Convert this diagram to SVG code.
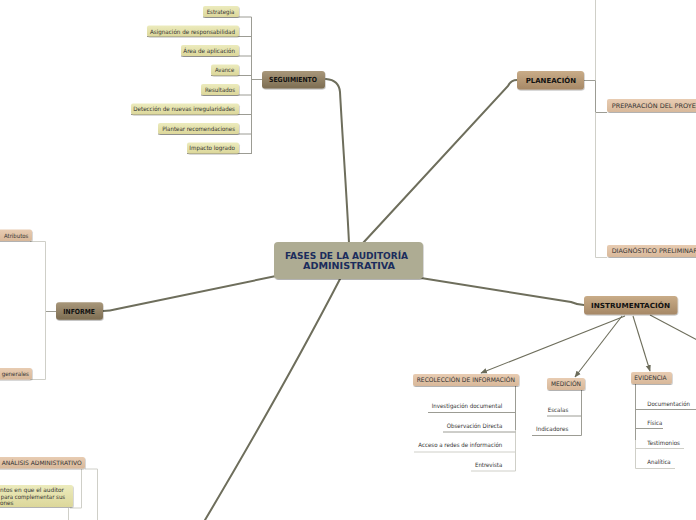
<svg xmlns="http://www.w3.org/2000/svg" width="696" height="520" viewBox="0 0 696 520">
<defs>
<linearGradient id="gDark" x1="0" y1="0" x2="0" y2="1"><stop offset="0" stop-color="#a8977a"/><stop offset="1" stop-color="#7d6d52"/></linearGradient>
<linearGradient id="gLight" x1="0" y1="0" x2="0" y2="1"><stop offset="0" stop-color="#c9ac88"/><stop offset="1" stop-color="#a68866"/></linearGradient>
<linearGradient id="gSub" x1="0" y1="0" x2="0" y2="1"><stop offset="0" stop-color="#e8ccb2"/><stop offset="1" stop-color="#d8b89a"/></linearGradient>
<linearGradient id="gYel" x1="0" y1="0" x2="0" y2="1"><stop offset="0" stop-color="#ecebbd"/><stop offset="1" stop-color="#dcd79a"/></linearGradient>
<filter id="sh" x="-10%" y="-30%" width="120%" height="170%"><feDropShadow dx="0.5" dy="1" stdDeviation="0.7" flood-color="#000" flood-opacity="0.3"/></filter>
<marker id="arr" viewBox="0 0 10 10" refX="9" refY="5" markerWidth="6" markerHeight="6" orient="auto"><path d="M0,1 L10,5 L0,9 Z" fill="#6b6b5a"/></marker>
</defs>
<style>
.main{fill:none;stroke:#6e6e5c;stroke-width:2;stroke-linecap:round}
.arrow{fill:none;stroke:#6e6e5c;stroke-width:1.1}
.ln{fill:none;stroke:#9c9c94;stroke-width:1}
.lt{fill:none;stroke:#cfcfc8;stroke-width:1}
.t{font-family:"DejaVu Sans",Verdana,sans-serif;fill:#333;font-size:6px}
.tb{font-family:"DejaVu Sans",Verdana,sans-serif;fill:#111;font-size:7px;font-weight:bold}
.ts{font-family:"DejaVu Sans",Verdana,sans-serif;fill:#333;font-size:6.3px}
.tc{font-family:"DejaVu Sans",Verdana,sans-serif;fill:#1b2c5c;font-size:8.2px;font-weight:bold}
.yel{fill:url(#gYel);filter:url(#sh)}
.sub{fill:url(#gSub);filter:url(#sh)}
.dk{fill:url(#gDark);filter:url(#sh)}
.lg{fill:url(#gLight);filter:url(#sh)}
</style>
<rect width="696" height="520" fill="#ffffff"/>

<g id="connectors">
<path class="main" d="M349,243 C347,200 342,130 340,92 Q339,80 326,79"/>
<path class="main" d="M363,243 L508,86 Q511,80 517,80"/>
<path class="main" d="M421,278 L571,302 Q578,305 584,305"/>
<path class="main" d="M276,276 L117,309 Q110,311 103,311"/>
<path class="main" d="M340,279 Q285,385 205,520"/>
<path class="arrow" marker-end="url(#arr)" d="M625,316 L481,373"/>
<path class="arrow" marker-end="url(#arr)" d="M622,316 L575,377"/>
<path class="arrow" marker-end="url(#arr)" d="M633,316 L650,371"/>
<path class="arrow" d="M650,315 L697,340"/>
<!-- seguimiento tree -->
<path class="ln" d="M262,79.5 H251.5 M251.5,17 V154"/>
<path class="ln" d="M203,17 H251.5 M147,36.5 H251.5 M181,56 H251.5 M211,75.5 H251.5 M201,95 H251.5 M131,114.5 H251.5 M158,134 H251.5 M187,153.5 H251.5"/>
<!-- planeacion tree -->
<path class="ln" d="M584,80.5 H595.5 V112.5 H607"/>
<path class="lt" d="M595.5,0 V80 M595.5,112.5 V257.5 H607"/>
<!-- recoleccion -->
<path class="ln" d="M515.5,386 V430"/>
<path class="lt" d="M515.5,430 V471"/>
<path class="ln" d="M428,412.5 H515.5 M443,432 H515.5"/>
<path class="lt" d="M414,452 H515.5 M471,471 H515.5"/>
<!-- medicion -->
<path class="ln" d="M581.5,390 V435.5 M547,416 H581.5 M532,435.5 H581.5"/>
<!-- evidencia -->
<path class="ln" d="M635.5,384 V440"/>
<path class="lt" d="M635.5,440 V468.5"/>
<path class="ln" d="M635.5,409.5 H696 M635.5,428.5 H663"/>
<path class="lt" d="M635.5,448.5 H684 M635.5,468.5 H675"/>
<!-- informe -->
<path class="ln" d="M56,311.5 H45.5"/>
<path class="lt" d="M45.5,241.5 V379.5 M30,241.5 H45.5 M30,379.5 H45.5"/>
<!-- analisis -->
<path class="lt" d="M85,469 H97.5 V520 M81.5,469 V508 H70 M68.5,508 V520"/>
</g>

<g id="center">
<rect x="274" y="242" width="149" height="37" rx="4" fill="#aeac93" filter="url(#sh)"/>
<text class="tc" x="346.5" y="259" text-anchor="middle" textLength="123" lengthAdjust="spacingAndGlyphs">FASES DE LA AUDITORÍA</text>
<text class="tc" x="349" y="268.6" text-anchor="middle" textLength="92" lengthAdjust="spacingAndGlyphs">ADMINISTRATIVA</text>
</g>

<g id="seguimiento">
<rect class="dk" x="262" y="71" width="63" height="17.5" rx="3"/>
<text class="tb" x="269" y="82" textLength="48" lengthAdjust="spacingAndGlyphs">SEGUIMIENTO</text>
</g>
<g id="seg-estrategia"><rect class="yel" x="203" y="6" width="36" height="11" rx="2"/><text class="t" x="206.7" y="14" textLength="27.6" lengthAdjust="spacingAndGlyphs">Estrategia</text></g>
<g id="seg-asignacion"><rect class="yel" x="147" y="25.5" width="92" height="11" rx="2"/><text class="t" x="150" y="33.5" textLength="85" lengthAdjust="spacingAndGlyphs">Asignación de responsabilidad</text></g>
<g id="seg-area"><rect class="yel" x="181" y="45" width="58" height="11" rx="2"/><text class="t" x="183.3" y="53" textLength="51.7" lengthAdjust="spacingAndGlyphs">Área de aplicación</text></g>
<g id="seg-avance"><rect class="yel" x="211" y="64.5" width="28" height="11" rx="2"/><text class="t" x="215" y="72.3" textLength="19.3" lengthAdjust="spacingAndGlyphs">Avance</text></g>
<g id="seg-resultados"><rect class="yel" x="201" y="84" width="38" height="11" rx="2"/><text class="t" x="205" y="91.6" textLength="30" lengthAdjust="spacingAndGlyphs">Resultados</text></g>
<g id="seg-deteccion"><rect class="yel" x="131" y="103.5" width="108" height="11" rx="2"/><text class="t" x="133.3" y="111" textLength="101.7" lengthAdjust="spacingAndGlyphs">Detección de nuevas irregularidades</text></g>
<g id="seg-plantear"><rect class="yel" x="158" y="123" width="81" height="11" rx="2"/><text class="t" x="162.3" y="130.5" textLength="72.7" lengthAdjust="spacingAndGlyphs">Plantear recomendaciones</text></g>
<g id="seg-impacto"><rect class="yel" x="187" y="142.5" width="52" height="11" rx="2"/><text class="t" x="189.3" y="149.8" textLength="45.7" lengthAdjust="spacingAndGlyphs">Impacto logrado</text></g>

<g id="planeacion">
<rect class="lg" x="517" y="71" width="67" height="18.5" rx="3"/>
<text class="tb" x="525.7" y="82.7" textLength="50.3" lengthAdjust="spacingAndGlyphs">PLANEACIÓN</text>
</g>
<g id="preparacion"><rect class="sub" x="607" y="99" width="95" height="13" rx="2"/><text class="ts" x="611.7" y="107.6" textLength="84.3" lengthAdjust="spacingAndGlyphs">PREPARACIÓN DEL PROYE</text></g>
<g id="diagnostico"><rect class="sub" x="607" y="245" width="95" height="12" rx="2"/><text class="ts" x="611.7" y="253" textLength="86" lengthAdjust="spacingAndGlyphs">DIAGNÓSTICO PRELIMINAR</text></g>

<g id="instrumentacion">
<rect class="lg" x="584" y="296" width="93.5" height="18.5" rx="3"/>
<text class="tb" x="591" y="307.8" textLength="79" lengthAdjust="spacingAndGlyphs">INSTRUMENTACIÓN</text>
</g>
<g id="recoleccion"><rect class="sub" x="413" y="374" width="106" height="12" rx="2"/><text class="ts" x="416.7" y="382" textLength="98.3" lengthAdjust="spacingAndGlyphs">RECOLECCIÓN DE INFORMACIÓN</text></g>
<g id="rec-inv"><text class="t" x="502.3" y="407.9" text-anchor="end" textLength="70.6" lengthAdjust="spacingAndGlyphs">Investigación documental</text></g>
<g id="rec-obs"><text class="t" x="502.3" y="427.9" text-anchor="end" textLength="55.6" lengthAdjust="spacingAndGlyphs">Observación Directa</text></g>
<g id="rec-acc"><text class="t" x="502.3" y="446.9" text-anchor="end" textLength="84" lengthAdjust="spacingAndGlyphs">Acceso a redes de información</text></g>
<g id="rec-ent"><text class="t" x="502.3" y="466.9" text-anchor="end" textLength="27.3" lengthAdjust="spacingAndGlyphs">Entrevista</text></g>

<g id="medicion"><rect class="sub" x="547" y="378" width="38" height="12" rx="2"/><text class="ts" x="551" y="386" textLength="30" lengthAdjust="spacingAndGlyphs">MEDICIÓN</text></g>
<g id="med-esc"><text class="t" x="568.3" y="411.9" text-anchor="end" textLength="20.6" lengthAdjust="spacingAndGlyphs">Escalas</text></g>
<g id="med-ind"><text class="t" x="568.3" y="431.2" text-anchor="end" textLength="32.3" lengthAdjust="spacingAndGlyphs">Indicadores</text></g>

<g id="evidencia"><rect class="sub" x="631" y="372" width="41" height="12" rx="2"/><text class="ts" x="634.3" y="380" textLength="32.4" lengthAdjust="spacingAndGlyphs">EVIDENCIA</text></g>
<g id="ev-doc"><text class="t" x="647.3" y="406" textLength="42.7" lengthAdjust="spacingAndGlyphs">Documentación</text></g>
<g id="ev-fis"><text class="t" x="647.3" y="425.2" textLength="15" lengthAdjust="spacingAndGlyphs">Física</text></g>
<g id="ev-tes"><text class="t" x="647.3" y="445.2" textLength="32.7" lengthAdjust="spacingAndGlyphs">Testimonios</text></g>
<g id="ev-ana"><text class="t" x="647.3" y="464.2" textLength="23.4" lengthAdjust="spacingAndGlyphs">Analítica</text></g>

<g id="informe">
<rect class="dk" x="56" y="302.3" width="47" height="17.5" rx="3"/>
<text class="tb" x="63.3" y="314" textLength="31.7" lengthAdjust="spacingAndGlyphs">INFORME</text>
</g>
<g id="atributos"><rect class="sub" x="-5" y="229.5" width="37" height="11.5" rx="2"/><text class="t" x="4" y="237.8" textLength="24.3" lengthAdjust="spacingAndGlyphs">Atributos</text></g>
<g id="generales"><rect class="sub" x="-5" y="368" width="37" height="11.5" rx="2"/><text class="t" x="1.7" y="376" textLength="27.3" lengthAdjust="spacingAndGlyphs">generales</text></g>

<g id="analisis"><rect class="sub" x="-5" y="457" width="90" height="11.5" rx="2"/><text class="t" x="1.7" y="465" textLength="80" lengthAdjust="spacingAndGlyphs">ANÁLISIS ADMINISTRATIVO</text></g>
<g id="nota"><rect class="yel" x="-5" y="485" width="78" height="22" rx="2"/>
<text class="t" x="0" y="492" textLength="64" lengthAdjust="spacingAndGlyphs">ntos en que el auditor</text>
<text class="t" x="0.7" y="498.8" textLength="64.5" lengthAdjust="spacingAndGlyphs">para complementar sus</text>
<text class="t" x="0" y="505.2" textLength="13.5" lengthAdjust="spacingAndGlyphs">ones</text>
</g>
</svg>
